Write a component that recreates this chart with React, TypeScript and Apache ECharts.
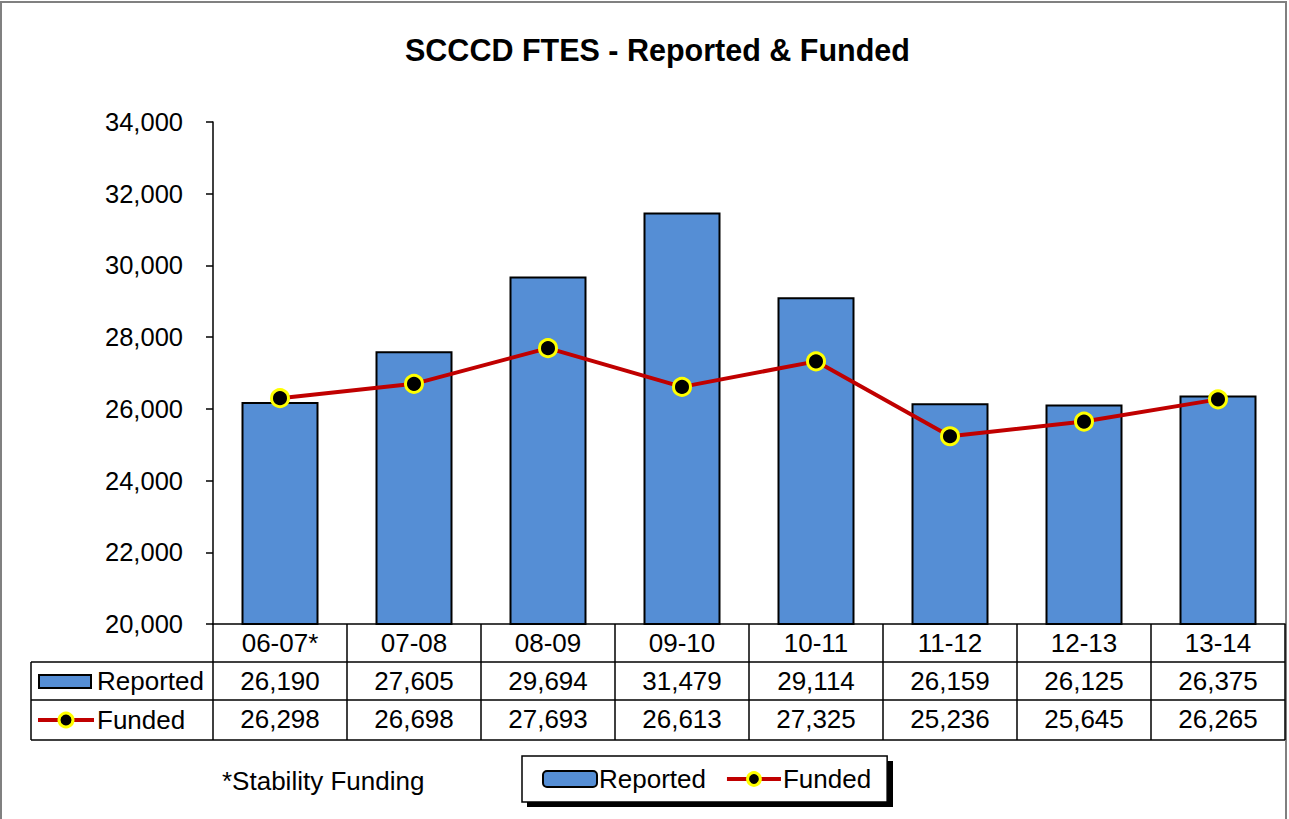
import React, { useEffect, useRef } from "react";
import * as echarts from "echarts";

const categories = ["06-07*", "07-08", "08-09", "09-10", "10-11", "11-12", "12-13", "13-14"];
const reported = [26190, 27605, 29694, 31479, 29114, 26159, 26125, 26375];
const funded = [26298, 26698, 27693, 26613, 27325, 25236, 25645, 26265];
const yTicks = { min: 20000, max: 34000, interval: 2000 };

const FONT = "'Liberation Sans', Arial, sans-serif";
const BAR = "#558ED5";
const LINE = "#C00000";
const fmt = (v: number) => v.toLocaleString("en-US");

export default function App() {
  const ref = useRef<HTMLDivElement>(null);
  useEffect(() => {
    const chart = echarts.init(ref.current!, undefined, { renderer: "svg" });
    const gl = { left: 213, top: 122, width: 1072, height: 502 };
    const labelBase = { fontFamily: FONT, fontSize: 26, color: "#000" };
    const hLine = (y: number) => ({
      type: "line", shape: { x1: 31, y1: y, x2: 1285, y2: y },
      style: { stroke: "#000", lineWidth: 1.5 }, z: 5,
    });
    chart.setOption({
      animation: false,
      backgroundColor: "#fff",
      title: {
        text: "SCCCD FTES - Reported & Funded",
        left: 400, top: 29,
        textStyle: { fontFamily: FONT, fontSize: 30.5, fontWeight: "bold", color: "#000" },
      },
      grid: { ...gl },
      xAxis: [
        {
          type: "category", data: categories, position: "bottom",
          axisLine: { lineStyle: { color: "#000", width: 1.5 } },
          axisTick: { show: true, length: 116, interval: 0, lineStyle: { color: "#000", width: 1.5 } },
          axisLabel: { ...labelBase, margin: 6, interval: 0 },
        },
        {
          type: "category", data: reported.map(fmt), position: "bottom", offset: 38,
          axisLine: { show: false }, axisTick: { show: false },
          axisLabel: { ...labelBase, margin: 6, interval: 0 },
        },
        {
          type: "category", data: funded.map(fmt), position: "bottom", offset: 76,
          axisLine: { show: false }, axisTick: { show: false },
          axisLabel: { ...labelBase, margin: 6, interval: 0 },
        },
      ],
      yAxis: {
        type: "value", ...yTicks,
        axisLine: { show: true, lineStyle: { color: "#000", width: 1.5 } },
        axisTick: { show: true, length: 7, lineStyle: { color: "#000", width: 1.5 } },
        splitLine: { show: false },
        axisLabel: { ...labelBase, fontSize: 25.5, margin: 30, formatter: (v: number) => fmt(v) },
      },
      legend: {
        left: 522, top: 756, z: 10,
        padding: [10, 16, 10, 20],
        backgroundColor: "#fff", borderColor: "#000", borderWidth: 1.5,
        itemWidth: 54, itemHeight: 16, itemGap: 19,
        textStyle: { ...labelBase, padding: [0, 0, 0, -3] },
        lineStyle: { width: 4 },
        itemStyle: { borderWidth: 3 },
        data: [
          { name: "Reported", itemStyle: { borderWidth: 2 } },
          { name: "Funded" },
        ],
      },
      series: [
        {
          name: "Reported", type: "bar", data: reported, barWidth: 77,
          itemStyle: { color: BAR, borderColor: "#000", borderWidth: 2 },
        },
        {
          name: "Funded", type: "line", data: funded,
          lineStyle: { color: LINE, width: 4 },
          symbol: "circle", symbolSize: 17,
          itemStyle: { color: "#000", borderColor: "#FFFF00", borderWidth: 3 },
          z: 3,
        },
      ],
      graphic: [
        { type: "rect", shape: { x: 1, y: 2, width: 1285, height: 830 }, style: { fill: "none", stroke: "#808080", lineWidth: 2 }, z: 0 },
        { type: "rect", shape: { x: 527, y: 761, width: 366, height: 46 }, style: { fill: "#000" }, z: 1 },
        hLine(662), hLine(700), hLine(740),
        { type: "line", shape: { x1: 31, y1: 662, x2: 31, y2: 740 }, style: { stroke: "#000", lineWidth: 1.5 }, z: 5 },
        { type: "rect", shape: { x: 39, y: 675, width: 52, height: 13 }, style: { fill: BAR, stroke: "#000", lineWidth: 2 }, z: 5 },
        { type: "text", x: 97, y: 681, style: { text: "Reported", fontFamily: FONT, fontSize: 26, fill: "#000", verticalAlign: "middle" }, z: 5 },
        { type: "line", shape: { x1: 38, y1: 720, x2: 94, y2: 720 }, style: { stroke: LINE, lineWidth: 4 }, z: 5 },
        { type: "circle", shape: { cx: 66, cy: 720, r: 7 }, style: { fill: "#000", stroke: "#FFFF00", lineWidth: 3 }, z: 6 },
        { type: "text", x: 97, y: 720, style: { text: "Funded", fontFamily: FONT, fontSize: 26, fill: "#000", verticalAlign: "middle" }, z: 5 },
        { type: "text", x: 222, y: 781, style: { text: "*Stability Funding", fontFamily: FONT, fontSize: 26, fill: "#000", verticalAlign: "middle" }, z: 5 },
      ],
    });
    return () => chart.dispose();
  }, []);
  return (
    <div
      ref={ref}
      style={{ position: "fixed", left: 0, top: 0, width: 1289, height: 819, background: "#fff" }}
    />
  );
}
